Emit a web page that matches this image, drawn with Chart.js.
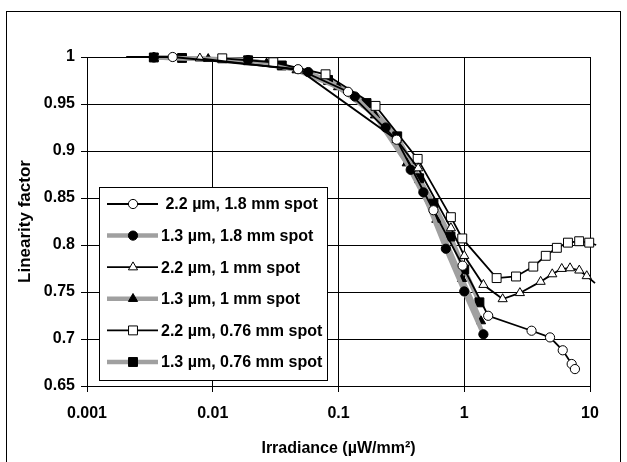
<!DOCTYPE html>
<html>
<head>
<meta charset="utf-8">
<script src="https://cdn.jsdelivr.net/npm/chart.js@4"></script>
<style>
html, body { margin: 0; padding: 0; background: #fff; }
canvas { display: block; }
</style>
</head>
<body>
<canvas id="chart" width="627" height="462"></canvas>
<script>
const FONT = "'Liberation Sans', Arial, sans-serif";

// series names as in the legend
const seriesLabels = [
    ' 2.2 µm, 1.8 mm spot',
    '1.3 µm, 1.8 mm spot',
    '2.2 µm, 1 mm spot',
    '1.3 µm, 1 mm spot',
    '2.2 µm, 0.76 mm spot',
    '1.3 µm, 0.76 mm spot'
];

// irradiance (µW/mm²) and linearity factor
const s1X = [0.00205, 0.0048, 0.0477, 0.119, 0.29, 0.569, 0.97, 1.55, 3.43, 4.81, 6.07, 7.15, 7.59];
const s1Y = [1.0, 1.0, 0.987, 0.963, 0.912, 0.837, 0.778, 0.7247, 0.7088, 0.7017, 0.688, 0.6734, 0.668];

const s2X = [0.0034, 0.0191, 0.0575, 0.135, 0.237, 0.375, 0.473, 0.714, 1.0, 1.42];
const s2Y = [0.9995, 0.9968, 0.984, 0.958, 0.925, 0.880, 0.856, 0.796, 0.7506, 0.705];

const s3X = [0.0079, 0.049, 0.29, 0.43, 0.783, 1.0, 1.42, 2.02, 2.77, 4.05, 5.01, 5.96, 6.94, 8.22, 9.42, 10.96];
const s3Y = [0.9986, 0.986, 0.912, 0.8817, 0.818, 0.7885, 0.7577, 0.7425, 0.749, 0.761, 0.769, 0.7747, 0.7754, 0.773, 0.767, 0.7595];

const s4X = [0.0034, 0.0092, 0.0268, 0.0464, 0.0992, 0.195, 0.349, 0.60, 0.96, 1.36];
const s4Y = [0.9995, 0.998, 0.9933, 0.986, 0.968, 0.938, 0.887, 0.827, 0.764, 0.719];

const s5X = [0.0119, 0.0303, 0.0789, 0.197, 0.426, 0.783, 0.964, 1.81, 2.58, 3.54, 4.45, 5.45, 6.68, 8.2, 9.86, 11.2];
const s5Y = [0.9986, 0.9944, 0.9816, 0.948, 0.8916, 0.8296, 0.807, 0.7648, 0.7665, 0.777, 0.7885, 0.797, 0.8025, 0.804, 0.8025, 0.80];

const s6X = [0.0034, 0.0057, 0.0191, 0.0354, 0.0826, 0.167, 0.293, 0.438, 0.569, 0.777, 1.0, 1.32];
const s6Y = [0.9995, 0.999, 0.9965, 0.991, 0.9756, 0.951, 0.9156, 0.871, 0.844, 0.809, 0.774, 0.739];

const xTicks = [0.001, 0.01, 0.1, 1, 10];
const xTickLabels = ['0.001', '0.01', '0.1', '1', '10'];
const yTicks = [0.65, 0.7, 0.75, 0.8, 0.85, 0.9, 0.95, 1];
const yTickLabels = ['0.65', '0.7', '0.75', '0.8', '0.85', '0.9', '0.95', '1'];

/**
 * Pairs up x and y lists into Chart.js points.
 */
function toPoints(xs, ys) {
    return xs.map((x, i) => ({ x: x, y: ys[i] }));
}

function radiusFor(style) {
    return style === 'circle' ? 4.6 : (style === 'triangle' ? 5.3 : 6.3);
}

// no marker on points that sit outside the plotted decades
function markerSize(size) {
    return (ctx) => {
        const p = ctx.raw;
        if (!p) return size;
        return (p.x > 10 || p.x < 0.003) ? 0 : size;
    };
}

const GREY = '#a0a0a0';

function makeSet(i, xs, ys, style, filled) {
    return {
        label: seriesLabels[i],
        data: toPoints(xs, ys),
        borderColor: filled ? GREY : '#000',
        borderWidth: filled ? 4.5 : 1.8,
        pointStyle: style,
        pointRadius: markerSize(radiusFor(style)),
        pointBackgroundColor: filled ? '#000' : '#fff',
        pointBorderColor: '#000',
        pointBorderWidth: 1,
        tension: 0,
        clip: false,
        order: filled ? 2 : 1
    };
}

// white page with the outer frame
const framePlugin = {
    id: 'frame',
    beforeDraw(chart) {
        const ctx = chart.ctx;
        ctx.save();
        ctx.fillStyle = '#fff';
        ctx.fillRect(0, 0, chart.width, chart.height);
        ctx.strokeStyle = '#000';
        ctx.lineWidth = 1;
        ctx.strokeRect(6.5, 11.5, 614, 460);
        ctx.restore();
    }
};

// legend drawn as a boxed list inside the plot
const boxLegend = {
    id: 'boxLegend',
    afterDatasetsDraw(chart) {
        const ctx = chart.ctx;
        const left = 99, top = 187, width = 228, height = 193;
        ctx.save();
        ctx.fillStyle = '#fff';
        ctx.fillRect(left, top, width, height);
        ctx.strokeStyle = '#000';
        ctx.lineWidth = 1;
        ctx.strokeRect(left + 0.5, top + 0.5, width, height);

        ctx.font = 'bold 16px ' + FONT;
        ctx.textBaseline = 'middle';
        ctx.textAlign = 'left';
        chart.data.datasets.forEach((ds, i) => {
            const y = 204 + i * 31.6;
            ctx.strokeStyle = ds.borderColor;
            ctx.lineWidth = ds.borderWidth;
            ctx.beginPath();
            ctx.moveTo(107, y);
            ctx.lineTo(158, y);
            ctx.stroke();
            ctx.fillStyle = ds.pointBackgroundColor;
            ctx.strokeStyle = ds.pointBorderColor;
            ctx.lineWidth = 1;
            Chart.helpers.drawPoint(ctx, {
                pointStyle: ds.pointStyle,
                radius: radiusFor(ds.pointStyle),
                borderWidth: 1,
                rotation: 0
            }, 133, y);
            ctx.fillStyle = '#000';
            ctx.fillText(ds.label, 161, y + 1);
        });
        ctx.restore();
    }
};

const config = {
    type: 'line',
    data: {
        datasets: [
            makeSet(0, s1X, s1Y, 'circle', false),
            makeSet(1, s2X, s2Y, 'circle', true),
            makeSet(2, s3X, s3Y, 'triangle', false),
            makeSet(3, s4X, s4Y, 'triangle', true),
            makeSet(4, s5X, s5Y, 'rect', false),
            makeSet(5, s6X, s6Y, 'rect', true)
        ]
    },
    options: {
        responsive: false,
        animation: false,
        layout: { padding: { top: 57, right: 37, left: 0, bottom: 0 } },
        plugins: {
            legend: { display: false },
            tooltip: { enabled: false }
        },
        scales: {
            x: {
                type: 'logarithmic',
                min: 0.001,
                max: 10,
                afterBuildTicks: (scale) => {
                    scale.ticks = xTicks.map(v => ({ value: v }));
                },
                afterFit: (scale) => { scale.height = 76; },
                ticks: {
                    autoSkip: false,
                    maxRotation: 0,
                    padding: 12,
                    color: '#000',
                    font: { family: FONT, size: 16, weight: 'bold' },
                    callback: (v, i) => xTickLabels[i]
                },
                grid: { color: '#000', lineWidth: 1, tickLength: 6, drawTicks: true },
                border: { color: '#000', width: 1 },
                title: {
                    display: true,
                    text: 'Irradiance (µW/mm²)',
                    color: '#000',
                    font: { family: FONT, size: 16, weight: 'bold' },
                    padding: { top: 0, bottom: 4 }
                }
            },
            y: {
                min: 0.65,
                max: 1,
                afterBuildTicks: (scale) => {
                    scale.ticks = yTicks.map(v => ({ value: v }));
                },
                afterFit: (scale) => { scale.width = 87; },
                ticks: {
                    padding: 6,
                    color: '#000',
                    font: { family: FONT, size: 16, weight: 'bold' },
                    callback: (v, i) => yTickLabels[i]
                },
                grid: { color: '#000', lineWidth: 1, tickLength: 6 },
                border: { color: '#000', width: 1 },
                title: {
                    display: true,
                    text: 'Linearity factor',
                    color: '#000',
                    font: { family: FONT, size: 17, weight: 'bold' },
                    padding: { top: 15, bottom: 0 }
                }
            }
        }
    },
    plugins: [framePlugin, boxLegend]
};

new Chart(document.getElementById('chart'), config);
</script>
</body>
</html>
